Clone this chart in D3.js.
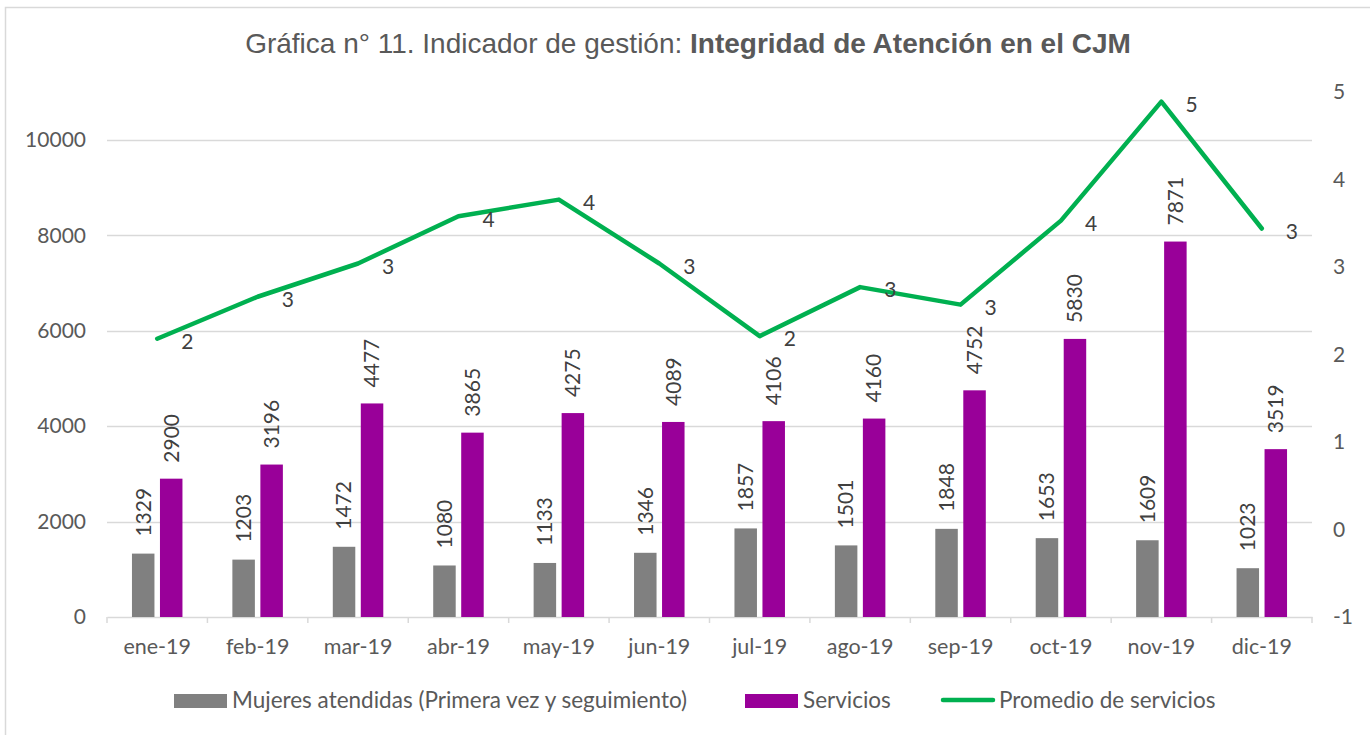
<!DOCTYPE html>
<html><head><meta charset="utf-8">
<script src="https://cdn.jsdelivr.net/npm/d3@7"></script>
<style>body{margin:0;background:#fff;} svg{display:block;}</style>
</head><body>
<svg id="c" width="1370" height="735"></svg>
<script>
const months = ["ene-19","feb-19","mar-19","abr-19","may-19","jun-19","jul-19","ago-19","sep-19","oct-19","nov-19","dic-19"];
const mujeres = [1329,1203,1472,1080,1133,1346,1857,1501,1848,1653,1609,1023];
const servicios = [2900,3196,4477,3865,4275,4089,4106,4160,4752,5830,7871,3519];
const promedio = [2.18,2.66,3.04,3.58,3.77,3.04,2.21,2.77,2.57,3.53,4.89,3.44];
const promedioLabels = ["2","3","3","4","4","3","2","3","3","4","5","3"];
const leftTicks = [0,2000,4000,6000,8000,10000];
const rightTicks = [-1,0,1,2,3,4,5];

const FONT = "Lato, 'Noto Sans', sans-serif";
const svg = d3.select("#c");
svg.append("rect").attr("x",5.5).attr("y",7.5).attr("width",1380).attr("height",740)
  .attr("fill","#fff").attr("stroke","#d9d9d9").attr("stroke-width",1.5);

const x0 = 107, x1 = 1312, yBot = 617;
const x = d3.scaleBand().domain(months).range([x0,x1]);
const yL = d3.scaleLinear().domain([0,10000]).range([yBot,140]);
const yR = d3.scaleLinear().domain([-1,5]).range([yBot,92]);

// gridlines
svg.append("g").selectAll("line").data(leftTicks.slice(1)).join("line")
  .attr("x1",x0).attr("x2",x1).attr("y1",d=>Math.round(yL(d))+0.5).attr("y2",d=>Math.round(yL(d))+0.5)
  .attr("stroke","#d9d9d9").attr("stroke-width",1.5);

// x axis
const xAxis = svg.append("g").attr("transform",`translate(0,${yBot})`)
  .call(d3.axisBottom(x).tickSize(0).tickPadding(22));
xAxis.select(".domain").attr("stroke","#d9d9d9").attr("stroke-width",1.5);
xAxis.selectAll("text").attr("font-family",FONT).attr("font-size",21.5).attr("fill","#595959");
// boundary ticks
xAxis.append("g").selectAll("line").data(d3.range(months.length+1)).join("line")
  .attr("x1",i=>x0+i*x.step()).attr("x2",i=>x0+i*x.step()).attr("y1",0).attr("y2",6)
  .attr("stroke","#d9d9d9").attr("stroke-width",1.5);

// left axis
const yAxisL = svg.append("g").attr("transform",`translate(${x0},0)`)
  .call(d3.axisLeft(yL).tickValues(leftTicks).tickFormat(d=>String(d)).tickSize(0).tickPadding(21));
yAxisL.select(".domain").remove();
yAxisL.selectAll("text").attr("font-family",FONT).attr("font-size",21).attr("fill","#595959");

// right axis
const yAxisR = svg.append("g").attr("transform",`translate(${x1},0)`)
  .call(d3.axisRight(yR).tickValues(rightTicks).tickFormat(d=>String(d)).tickSize(0).tickPadding(21));
yAxisR.select(".domain").remove();
yAxisR.selectAll("text").attr("font-family",FONT).attr("font-size",21).attr("fill","#595959");

// bars
const bw = 22.5, gap = 5.5;
const cx = d => x(d) + x.bandwidth()/2;
const gBars = svg.append("g");
gBars.selectAll(".m").data(months).join("rect")
  .attr("x",(d)=>cx(d)-gap/2-bw).attr("width",bw)
  .attr("y",(d,i)=>yL(mujeres[i])).attr("height",(d,i)=>yBot-yL(mujeres[i])).attr("fill","#808080");
gBars.selectAll(".s").data(months).join("rect")
  .attr("x",(d)=>cx(d)+gap/2).attr("width",bw)
  .attr("y",(d,i)=>yL(servicios[i])).attr("height",(d,i)=>yBot-yL(servicios[i])).attr("fill","#990099");

// bar labels
const lab = svg.append("g").attr("font-family",FONT).attr("font-size",21).attr("fill","#404040");
months.forEach((m,i)=>{
  const xm = cx(m)-gap/2-bw/2, xs = cx(m)+gap/2+bw/2;
  lab.append("text").attr("transform",`translate(${xm},${yL(mujeres[i])-17}) rotate(-90)`)
    .attr("dy","0.35em").text(mujeres[i]);
  lab.append("text").attr("transform",`translate(${xs},${yL(servicios[i])-16}) rotate(-90)`)
    .attr("dy","0.35em").text(servicios[i]);
});

// line
const line = d3.line().x((d,i)=>cx(months[i])).y(d=>yR(d));
svg.append("path").datum(promedio).attr("d",line).attr("fill","none")
  .attr("stroke","#00b050").attr("stroke-width",4.5).attr("stroke-linejoin","round").attr("stroke-linecap","round");
svg.append("g").attr("font-family",FONT).attr("font-size",21).attr("fill","#404040")
  .selectAll("text").data(promedio).join("text")
  .attr("x",(d,i)=>cx(months[i])+24).attr("y",d=>yR(d)+3).attr("dy","0.35em").text((d,i)=>promedioLabels[i]);

// title
const t = svg.append("text").attr("x",688).attr("y",53).attr("text-anchor","middle")
  .attr("font-family","'Liberation Sans', Arial, sans-serif").attr("font-size",28).attr("fill","#595959");
t.append("tspan").text("Gráfica n° 11. Indicador de gestión: ");
t.append("tspan").attr("font-weight","bold").text("Integridad de Atención en el CJM");

// legend
const legend = [
  {name:"Mujeres atendidas (Primera vez y seguimiento)", color:"#808080", type:"rect", x:174},
  {name:"Servicios", color:"#990099", type:"rect", x:745},
  {name:"Promedio de servicios", color:"#00b050", type:"line", x:941}
];
const lg = svg.append("g").attr("font-family",FONT).attr("font-size",22.5).attr("fill","#595959");
legend.forEach(l=>{
  if(l.type==="rect") lg.append("rect").attr("x",l.x).attr("y",694).attr("width",53).attr("height",14).attr("fill",l.color);
  else lg.append("line").attr("x1",l.x+2).attr("x2",l.x+52).attr("y1",700).attr("y2",700).attr("stroke",l.color).attr("stroke-width",4.5).attr("stroke-linecap","round");
  lg.append("text").attr("x",l.x+58).attr("y",700).attr("dy","0.35em").text(l.name);
});
</script>
</body></html>
